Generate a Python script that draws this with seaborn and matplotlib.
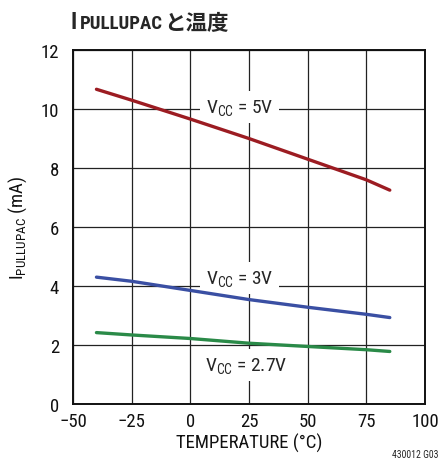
import pandas as pd
import matplotlib
matplotlib.use("Agg")
import matplotlib.pyplot as plt
import seaborn as sns

sns.set_style("white")
plt.rcParams['font.family'] = ['Roboto Condensed', 'DejaVu Sans']
plt.rcParams['mathtext.fontset'] = 'custom'
plt.rcParams['mathtext.rm'] = 'Roboto Condensed'

# values
temp = [-40, -25, 0, 25, 50, 75, 85]
i_5v = [10.67, 10.3, 9.66, 9.0, 8.3, 7.6, 7.25]
i_3v = [4.3, 4.16, 3.85, 3.54, 3.28, 3.04, 2.93]
i_27v = [2.42, 2.34, 2.22, 2.06, 1.95, 1.84, 1.78]
series = ['5V', '3V', '2.7V']
colors = ['#9c1c22', '#3a4fa3', '#2a8a48']

df = pd.DataFrame({
    'temp': temp * 3,
    'current': i_5v + i_3v + i_27v,
    'vcc': [s for s in series for _ in temp],
})

fig = plt.figure(figsize=(4.41, 4.64), dpi=100)
ax = fig.add_axes([0.1655, 0.1272, 0.7982, 0.7628])

sns.lineplot(data=df, x='temp', y='current', hue='vcc', palette=colors,
             linewidth=2.4, legend=False, ax=ax)

ax.set_xlim(-50, 100)
ax.set_ylim(0, 12)
ax.set_xticks([-50, -25, 0, 25, 50, 75, 100])
ax.set_xticklabels(['\u221250', '\u221225', '0', '25', '50', '75', '100'])
ax.set_yticks(range(0, 13, 2))
ax.grid(True, color='#222222', linewidth=0.9)
ax.set_axisbelow(True)
for s in ax.spines.values():
    s.set_color('#111111')
    s.set_linewidth(1.4)
ax.tick_params(axis='both', length=0, labelsize=13.5, colors='#111111')
ax.tick_params(axis='x', pad=6)
ax.tick_params(axis='y', pad=10)

ax.set_xlabel('TEMPERATURE (\u00b0C)', fontsize=13.5, color='#111111', labelpad=2)
ax.set_ylabel(r'$\mathrm{I_{PULLUPAC}}$ (mA)', fontsize=13.5, color='#111111', labelpad=8)

# labels sit above the grid but below the curves
box = dict(facecolor='white', edgecolor='none', pad=4)
ax.text(21, 10.07, r'$\mathrm{V_{CC}}$ = 5V', fontsize=14, ha='center', va='center', bbox=box, zorder=1.5)
ax.text(21, 4.27, r'$\mathrm{V_{CC}}$ = 3V', fontsize=14, ha='center', va='center', bbox=box, zorder=1.5)
ax.text(24, 1.32, r'$\mathrm{V_{CC}}$ = 2.7V', fontsize=14, ha='center', va='center', bbox=box, zorder=1.5)

# title pieces
fig.text(71 / 441, 1 - 29 / 464, 'I', fontsize=16.5, fontweight='bold', va='baseline')
fig.text(80 / 441, 1 - 29 / 464, 'PULLUPAC', fontsize=13.5, fontweight='bold', va='baseline')
fig.text(164 / 441, 1 - 30 / 464, 'と温度', fontsize=15.5, fontweight='bold', va='baseline',
         family=['Noto Sans CJK JP', 'DejaVu Sans'])

fig.text(438 / 441, 1 - 458 / 464, '430012 G03', fontsize=7, ha='right', va='baseline')

fig.savefig('out.png', dpi=100)
